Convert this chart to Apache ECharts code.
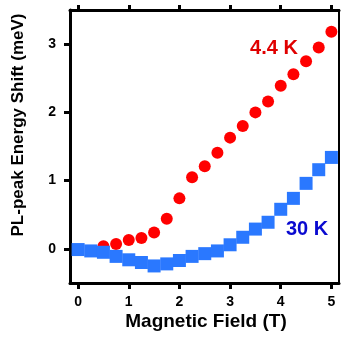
<!DOCTYPE html>
<html>
<head>
<meta charset="utf-8">
<script src="https://cdn.jsdelivr.net/npm/echarts@6/dist/echarts.min.js"></script>
<style>html,body{margin:0;padding:0;background:#fff}#c{width:341px;height:338px}</style>
</head>
<body>
<div id="c"></div>
<script>
var field44K = [0.5, 0.75, 1.0, 1.25, 1.5, 1.75, 2.0, 2.25, 2.5, 2.75, 3.0, 3.25, 3.5, 3.75, 4.0, 4.25, 4.5, 4.75, 5.0];
var shift44K = [0.04, 0.07, 0.13, 0.16, 0.24, 0.44, 0.74, 1.05, 1.21, 1.41, 1.63, 1.80, 2.00, 2.16, 2.39, 2.56, 2.75, 2.95, 3.18];
var field30K = [0, 0.25, 0.5, 0.75, 1.0, 1.25, 1.5, 1.75, 2.0, 2.25, 2.5, 2.75, 3.0, 3.25, 3.5, 3.75, 4.0, 4.25, 4.5, 4.75, 5.0];
var shift30K = [-0.01, -0.03, -0.05, -0.11, -0.16, -0.20, -0.25, -0.22, -0.17, -0.11, -0.07, -0.03, 0.06, 0.17, 0.29, 0.39, 0.58, 0.74, 0.96, 1.16, 1.34];
var xTicks = [0, 1, 2, 3, 4, 5];
var yTicks = [0, 1, 2, 3];

function pairs(xs, ys) { return xs.map(function (x, i) { return [x, ys[i]]; }); }

var chart = echarts.init(document.getElementById('c'), null, {renderer: 'canvas'});
var lineStyle = {color: '#000', width: 3};
var tickStyle = {color: '#000', width: 3};
var labelFont = {color: '#000', fontSize: 14, fontWeight: 'bold', fontFamily: 'Liberation Sans, Arial, sans-serif'};
chart.setOption({
  animation: false,
  backgroundColor: '#fff',
  grid: {left: 70, top: 10, right: 2, bottom: 55},
  xAxis: [{
    type: 'value', min: -0.16, max: 5.15, position: 'bottom',
    axisLine: {show: true, lineStyle: lineStyle, onZero: false},
    axisTick: {show: true, inside: false, length: 6, lineStyle: tickStyle, customValues: xTicks},
    axisLabel: Object.assign({margin: 12, customValues: xTicks}, labelFont),
    splitLine: {show: false}
  }, {
    type: 'value', min: -0.16, max: 5.15, position: 'top',
    axisLine: {show: true, lineStyle: lineStyle, onZero: false},
    axisTick: {show: true, inside: false, length: 5, lineStyle: tickStyle, customValues: xTicks},
    axisLabel: {show: false},
    splitLine: {show: false}
  }],
  yAxis: [{
    type: 'value', min: -0.5, max: 3.5, position: 'left',
    axisLine: {show: true, lineStyle: lineStyle, onZero: false},
    axisTick: {show: true, inside: false, length: 6, lineStyle: tickStyle, customValues: yTicks},
    axisLabel: Object.assign({margin: 14, customValues: yTicks}, labelFont),
    splitLine: {show: false}
  }, {
    type: 'value', min: -0.5, max: 3.5, position: 'right',
    axisLine: {show: true, lineStyle: {color: '#000', width: 2}, onZero: false},
    axisTick: {show: false},
    axisLabel: {show: false},
    splitLine: {show: false}
  }],
  series: [{
    name: '4.4 K', type: 'scatter', xAxisIndex: 0, yAxisIndex: 0,
    symbol: 'circle', symbolSize: 12,
    itemStyle: {color: '#ff0000', opacity: 1},
    data: pairs(field44K, shift44K), z: 2
  }, {
    name: '30 K', type: 'scatter', xAxisIndex: 0, yAxisIndex: 0,
    symbol: 'rect', symbolSize: 13,
    itemStyle: {color: '#2a78ff', opacity: 1},
    data: pairs(field30K, shift30K), z: 3
  }],
  graphic: [{
    type: 'text', x: 274, y: 48, z: 10,
    style: {text: '4.4 K', fill: '#e00000', font: 'bold 20px "Liberation Sans", Arial, sans-serif', align: 'center', verticalAlign: 'middle'}
  }, {
    type: 'text', x: 307, y: 229, z: 10,
    style: {text: '30 K', fill: '#0a0ad0', font: 'bold 20px "Liberation Sans", Arial, sans-serif', align: 'center', verticalAlign: 'middle'}
  }, {
    type: 'text', x: 206, y: 322, z: 10,
    style: {text: 'Magnetic Field (T)', fill: '#000', font: 'bold 19px "Liberation Sans", Arial, sans-serif', align: 'center', verticalAlign: 'middle'}
  }, {
    type: 'text', x: 18, y: 125, rotation: Math.PI / 2, z: 10,
    style: {text: 'PL-peak Energy Shift (meV)', fill: '#000', font: 'bold 17px "Liberation Sans", Arial, sans-serif', align: 'center', verticalAlign: 'middle'}
  }]
});
</script>
</body>
</html>
